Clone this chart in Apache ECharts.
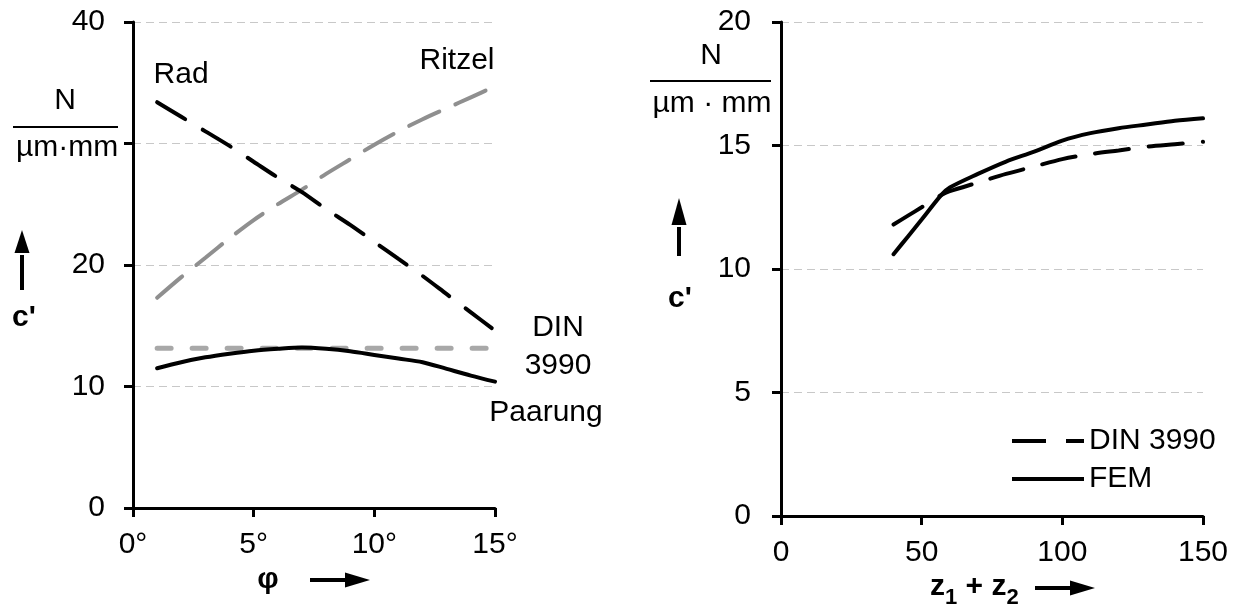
<!DOCTYPE html>
<html>
<head>
<meta charset="utf-8">
<script src="https://cdn.jsdelivr.net/npm/echarts@6/dist/echarts.min.js"></script>
<style>
  html, body { margin: 0; padding: 0; background: #fff; }
  #chart { width: 1239px; height: 607px; }
</style>
</head>
<body>
<div id="chart"></div>
<script>
// Left panel: mesh stiffness c' against helix angle φ
const phiDeg = [1, 2, 3, 4, 5, 6, 7, 8, 9, 10, 11, 12, 13, 14, 15];
const radValues = [33.4, 32.2, 31.0, 29.8, 28.5, 27.2, 26.0, 24.6, 23.3, 21.9, 20.5, 19.1, 17.6, 16.1, 14.6];
const ritzelValues = [17.3, 19.0, 20.6, 22.2, 23.7, 25.0, 26.2, 27.5, 28.7, 29.9, 31.0, 32.0, 32.9, 33.8, 34.7];
const paarungValues = [11.5, 12.0, 12.4, 12.7, 12.95, 13.1, 13.2, 13.1, 12.9, 12.6, 12.3, 12.0, 11.45, 10.9, 10.4];
const dinPhi = [1, 15];
const dinPhiValues = [13.15, 13.15];
const phiTicks = [0, 5, 10, 15];
const leftYTicks = [0, 10, 20, 40];   // 30 stays unlabelled, the unit sits there

// Right panel: mesh stiffness c' against total tooth number z1 + z2
const zSum = [40, 45, 50, 57, 60, 70, 80, 90, 100, 110, 120, 130, 140, 150];
const femValues = [10.6, 11.3, 12.0, 13.0, 13.3, 13.85, 14.35, 14.75, 15.2, 15.5, 15.7, 15.85, 16.0, 16.1];
const dinZValues = [11.8, 12.15, 12.5, 13.0, 13.15, 13.5, 13.85, 14.15, 14.45, 14.65, 14.8, 14.95, 15.05, 15.15];

const FONT = 'Liberation Sans, Arial, sans-serif';
const FS = 30;

const pairs = (xs, ys) => xs.map((x, i) => [x, ys[i]]);

const axisLineStyle = { color: '#000', width: 3 };
const gridLine = { show: true, lineStyle: { color: '#c8c8c8', width: 1, type: [8, 5] } };
const tickStyle = { show: true, inside: false, length: 9, lineStyle: { color: '#000', width: 3 } };
const labelStyle = { color: '#000', fontSize: FS, fontFamily: FONT };

const DASH_DIN_Z = [34, 20];

function noteLabel(text, coord, offset, extra) {
  return {
    coord: coord,
    symbol: 'circle',
    symbolSize: 1,
    itemStyle: { color: 'rgba(0,0,0,0)' },
    label: Object.assign({
      show: true,
      position: 'inside',
      formatter: text,
      offset: offset,
      color: '#000',
      fontSize: FS,
      fontFamily: FONT
    }, extra || {})
  };
}

function upArrow(x, tip, base, end) {
  return [
    { type: 'line', shape: { x1: x, y1: end, x2: x, y2: base + 2 }, style: { stroke: '#000', lineWidth: 4 } },
    { type: 'polygon', shape: { points: [[x - 7.5, base], [x + 7.5, base], [x, tip]] }, style: { fill: '#000' } }
  ];
}
function rightArrow(x0, tip, base, y) {
  return [
    { type: 'line', shape: { x1: x0, y1: y, x2: base + 2, y2: y }, style: { stroke: '#000', lineWidth: 4 } },
    { type: 'polygon', shape: { points: [[base, y - 7.5], [base, y + 7.5], [tip, y]] }, style: { fill: '#000' } }
  ];
}
function plainText(text, x, y, bold) {
  return {
    type: 'text', x: x, y: y,
    style: {
      text: text, fill: '#000', fontSize: FS, fontFamily: FONT,
      fontWeight: bold ? 'bold' : 'normal', align: 'center', verticalAlign: 'middle'
    }
  };
}

const chart = echarts.init(document.getElementById('chart'), null, { renderer: 'canvas' });

chart.setOption({
  animation: false,
  backgroundColor: '#fff',
  grid: [
    { left: 133, right: 744, top: 22, bottom: 99 },
    { left: 781, right: 36, top: 22, bottom: 91 }
  ],
  xAxis: [
    {
      gridIndex: 0, type: 'value', min: 0, max: 15, interval: 5,
      axisLine: { show: true, lineStyle: axisLineStyle },
      axisTick: tickStyle,
      splitLine: { show: false },
      axisLabel: Object.assign({ margin: 22, formatter: v => phiTicks.includes(v) ? v + '°' : '' }, labelStyle)
    },
    {
      gridIndex: 1, type: 'value', min: 0, max: 150, interval: 50,
      axisLine: { show: true, lineStyle: axisLineStyle },
      axisTick: tickStyle,
      splitLine: { show: false },
      axisLabel: Object.assign({ margin: 22 }, labelStyle)
    }
  ],
  yAxis: [
    {
      gridIndex: 0, type: 'value', min: 0, max: 40, interval: 10,
      axisLine: { show: true, lineStyle: axisLineStyle },
      axisTick: tickStyle,
      splitLine: gridLine,
      axisLabel: Object.assign({ margin: 28, formatter: v => leftYTicks.includes(v) ? String(v) : '' }, labelStyle)
    },
    {
      gridIndex: 1, type: 'value', min: 0, max: 20, interval: 5,
      axisLine: { show: true, lineStyle: axisLineStyle },
      axisTick: tickStyle,
      splitLine: gridLine,
      axisLabel: Object.assign({ margin: 30 }, labelStyle)
    }
  ],
  legend: {
    orient: 'vertical',
    left: 1005, top: 421,
    itemWidth: 72, itemHeight: 14, itemGap: 8,
    itemStyle: { opacity: 0 },
    lineStyle: { width: 4, color: '#000', cap: 'butt' },
    data: [
      { name: 'DIN 3990', lineStyle: { type: DASH_DIN_Z } },
      { name: 'FEM', lineStyle: { type: 'solid' } }
    ],
    textStyle: { color: '#000', fontSize: FS, fontFamily: FONT },
    selectedMode: false
  },
  series: [
    {
      name: 'Ritzel', type: 'line', xAxisIndex: 0, yAxisIndex: 0,
      data: pairs(phiDeg, ritzelValues), showSymbol: false, symbol: 'none', smooth: 0.3,
      lineStyle: { color: '#8f8f8f', width: 4, type: [33, 18], cap: 'round' },
      markPoint: { silent: true, data: [noteLabel('Ritzel', [15, 34.7], [-38, -26])] }
    },
    {
      name: 'Rad', type: 'line', xAxisIndex: 0, yAxisIndex: 0,
      data: pairs(phiDeg, radValues), showSymbol: false, symbol: 'none', smooth: 0.3,
      lineStyle: { color: '#000', width: 4, type: [33, 20], cap: 'round' },
      markPoint: { silent: true, data: [noteLabel('Rad', [1, 33.4], [24, -27])] }
    },
    {
      name: 'DIN 3990 Schrägung', type: 'line', xAxisIndex: 0, yAxisIndex: 0,
      data: pairs(dinPhi, dinPhiValues), showSymbol: false, symbol: 'none',
      lineStyle: { color: '#a8a8a8', width: 5, type: [14, 21], cap: 'round' },
      markPoint: { silent: true, data: [noteLabel('DIN\n3990', [15, 13.15], [63, -1], { lineHeight: 38, align: 'center' })] }
    },
    {
      name: 'Paarung', type: 'line', xAxisIndex: 0, yAxisIndex: 0,
      data: pairs(phiDeg, paarungValues), showSymbol: false, symbol: 'none', smooth: 0.3,
      lineStyle: { color: '#000', width: 4, cap: 'round' },
      markPoint: { silent: true, data: [noteLabel('Paarung', [15, 10.4], [51, 31])] }
    },
    {
      name: 'DIN 3990', type: 'line', xAxisIndex: 1, yAxisIndex: 1,
      data: pairs(zSum, dinZValues), showSymbol: false, symbol: 'none', smooth: 0.3,
      itemStyle: { color: '#000' },
      lineStyle: { color: '#000', width: 4, type: DASH_DIN_Z, cap: 'round' }
    },
    {
      name: 'FEM', type: 'line', xAxisIndex: 1, yAxisIndex: 1,
      data: pairs(zSum, femValues), showSymbol: false, symbol: 'none', smooth: 0.3,
      itemStyle: { color: '#000' },
      lineStyle: { color: '#000', width: 4, cap: 'round' }
    }
  ],
  graphic: [
    // left unit fraction and axis titles
    plainText('N', 65, 101),
    { type: 'line', shape: { x1: 13, y1: 127, x2: 118, y2: 127 }, style: { stroke: '#000', lineWidth: 2 } },
    plainText('µm·mm', 67, 148),
    ...upArrow(22, 230, 253, 290),
    plainText("c'", 24, 318, true),
    plainText('φ', 268, 580, true),
    ...rightArrow(310, 370, 345, 580),
    // right unit fraction and axis titles
    plainText('N', 711, 56),
    { type: 'line', shape: { x1: 650, y1: 81, x2: 771, y2: 81 }, style: { stroke: '#000', lineWidth: 2 } },
    plainText('µm · mm', 712, 104),
    ...upArrow(679, 198, 225, 256),
    plainText("c'", 680, 299, true),
    {
      type: 'text', x: 930, y: 587,
      style: {
        text: '{b|z}{s|1}{b| + z}{s|2}',
        fill: '#000', fontFamily: FONT, verticalAlign: 'middle', align: 'left',
        rich: {
          b: { fontSize: 30, fontWeight: 'bold', fontFamily: FONT, lineHeight: 30, verticalAlign: 'top' },
          s: { fontSize: 22, fontWeight: 'bold', fontFamily: FONT, lineHeight: 22, verticalAlign: 'top', padding: [15, 0, 0, 0] }
        }
      }
    },
    ...rightArrow(1035, 1095, 1070, 588)
  ]
});
</script>
</body>
</html>
